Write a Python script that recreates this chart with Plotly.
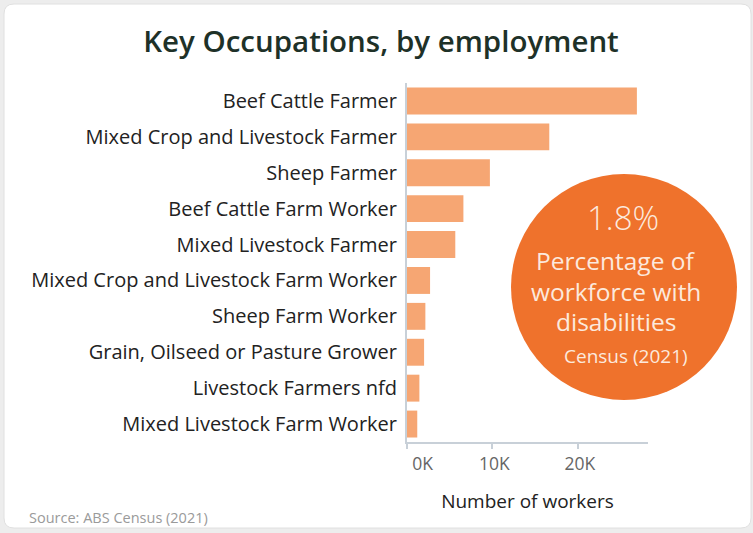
import plotly.graph_objects as go

categories = [
    "Beef Cattle Farmer",
    "Mixed Crop and Livestock Farmer",
    "Sheep Farmer",
    "Beef Cattle Farm Worker",
    "Mixed Livestock Farmer",
    "Mixed Crop and Livestock Farm Worker",
    "Sheep Farm Worker",
    "Grain, Oilseed or Pasture Grower",
    "Livestock Farmers nfd",
    "Mixed Livestock Farm Worker",
]
workers = [26900, 16650, 9700, 6600, 5650, 2700, 2150, 2000, 1450, 1200]
tick_vals = [0, 10000, 20000]
tick_text = ["\u00a0" * 6 + "0K", "10K", "20K"]

W, H = 753, 533
L, R, T, B = 407, 105, 83, 91
pw, ph = W - L - R, H - T - B
FONT = "Open Sans"

def px_x(x):
    return (x - L) / pw

def px_y(y):
    return (H - B - y) / ph

fig = go.Figure(go.Bar(
    x=workers, y=categories, orientation="h",
    marker=dict(color="#F6A673", line=dict(width=0)),
    width=0.75, hoverinfo="x+y",
))

# card background with rounded corners
x0, x1, y0, y1, r = px_x(4), px_x(751), px_y(528), px_y(4), 10
rx, ry = r / pw, r / ph
path = (f"M {x0+rx},{y0} L {x1-rx},{y0} Q {x1},{y0} {x1},{y0+ry} "
        f"L {x1},{y1-ry} Q {x1},{y1} {x1-rx},{y1} L {x0+rx},{y1} "
        f"Q {x0},{y1} {x0},{y1-ry} L {x0},{y0+ry} Q {x0},{y0} {x0+rx},{y0} Z")
shapes = [
    dict(type="path", xref="paper", yref="paper", path=path,
         fillcolor="white", line=dict(color="#e0e0e0", width=1), layer="below"),
    dict(type="circle", xref="paper", yref="paper",
         x0=px_x(511), x1=px_x(737), y0=px_y(400), y1=px_y(174),
         fillcolor="#EF722C", line=dict(width=0), layer="above"),
]

txt = "#FCE9DD"
ann = [
    dict(x=px_x(623), y=px_y(217), text="1.8%", font=dict(size=33, color=txt, family=FONT, weight=300)),
    dict(x=px_x(616), y=px_y(260), text="Percentage of", font=dict(size=24.5, color=txt, family=FONT, weight=400)),
    dict(x=px_x(616), y=px_y(291), text="workforce with", font=dict(size=24.5, color=txt, family=FONT, weight=400)),
    dict(x=px_x(616), y=px_y(321), text="disabilities", font=dict(size=24.5, color=txt, family=FONT, weight=400)),
    dict(x=px_x(626), y=px_y(356), text="Census (2021)", font=dict(size=19, color=txt, family=FONT)),
    dict(x=px_x(27), y=px_y(517), text="Source: ABS Census (2021)", xanchor="left",
         font=dict(size=14.5, color="#9a9a9a", family=FONT)),
]
for a in ann:
    a.setdefault("xanchor", "center")
    a.update(xref="paper", yref="paper", yanchor="middle", showarrow=False)

fig.update_layout(
    width=W, height=H,
    margin=dict(l=L, r=R, t=T, b=B),
    paper_bgcolor="#ededed",
    plot_bgcolor="rgba(0,0,0,0)",
    title=dict(text="Key Occupations, by employment", x=381 / W, xanchor="center",
               y=1 - 42 / H, yanchor="middle",
               font=dict(size=29.5, color="#1E3128", family=FONT, weight=600)),
    shapes=shapes,
    annotations=ann,
    showlegend=False,
    bargap=0.25,
    font=dict(family=FONT),
)
fig.update_xaxes(
    range=[0, 28200], tickvals=tick_vals, ticktext=tick_text,
    showgrid=False, zeroline=False, showline=True, linecolor="#c8d0d8", linewidth=2,
    ticks="outside", ticklen=5, tickcolor="#c8d0d8", tickwidth=1.5,
    ticklabelshift=2,
    tickfont=dict(size=17.5, color="#666666", family=FONT),
    title=dict(text="Number of workers", font=dict(size=19, color="#222222", family=FONT), standoff=21),
)
fig.update_yaxes(
    autorange="reversed", showgrid=False, zeroline=False,
    showline=True, linecolor="#c8d0d8", linewidth=2,
    ticks="", ticklabelstandoff=4,
    tickfont=dict(size=20, color="#222222", family=FONT),
)

fig.write_html("out.html", config={"displayModeBar": False},
               post_script="document.body.style.margin='0';")
